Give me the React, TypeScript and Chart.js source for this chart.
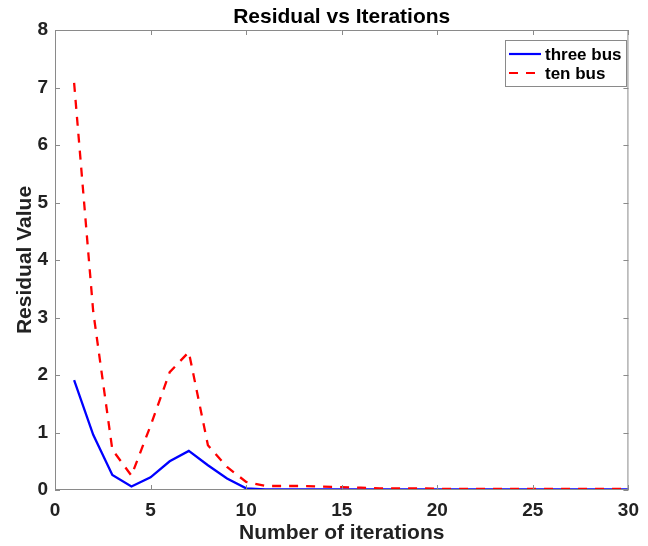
import React, { useEffect, useRef } from "react";
import { Chart, registerables } from "chart.js";

Chart.register(...registerables);

const iterations = Array.from({ length: 30 }, (_, i) => i + 1);
const threeBus = [
  1.91, 0.96, 0.26, 0.06, 0.22, 0.5, 0.68, 0.43, 0.2, 0.03,
  0.01, 0.01, 0.01, 0.01, 0.01, 0.01, 0.01, 0.01, 0.01, 0.01,
  0.01, 0.01, 0.01, 0.01, 0.01, 0.01, 0.01, 0.01, 0.01, 0.01,
];
const tenBus = [
  7.08, 3.1, 0.7, 0.25, 1.12, 2.05, 2.4, 0.78, 0.4, 0.14,
  0.07, 0.07, 0.07, 0.06, 0.05, 0.04, 0.03, 0.03, 0.03, 0.02,
  0.02, 0.02, 0.02, 0.02, 0.02, 0.02, 0.02, 0.02, 0.02, 0.02,
];
const xTicks = [0, 5, 10, 15, 20, 25, 30];
const yTicks = [0, 1, 2, 3, 4, 5, 6, 7, 8];
const seriesLabels = ["three bus", "ten bus"];

const FONT = '"Liberation Sans", Arial, Helvetica, sans-serif';
const AXIS_COLOR = "#8a8a8a";
const TEXT_COLOR = "#222222";

const framePlugin = {
  id: "matlabFrame",
  afterDraw(chart: any) {
    const { ctx, chartArea } = chart;
    const { left, right, top, bottom } = chartArea;
    const xs = chart.scales.x;
    const ys = chart.scales.y;
    ctx.save();
    ctx.strokeStyle = AXIS_COLOR;
    ctx.lineWidth = 1;
    ctx.beginPath();
    ctx.rect(left + 0.5, top + 0.5, right - left - 1, bottom - top - 1);
    ctx.stroke();
    const tl = 5;
    ctx.beginPath();
    xTicks.forEach((v) => {
      const px = Math.round(xs.getPixelForValue(v)) + 0.5;
      ctx.moveTo(px, bottom);
      ctx.lineTo(px, bottom - tl);
      ctx.moveTo(px, top);
      ctx.lineTo(px, top + tl);
    });
    yTicks.forEach((v) => {
      const py = Math.round(ys.getPixelForValue(v)) + 0.5;
      ctx.moveTo(left, py);
      ctx.lineTo(left + tl, py);
      ctx.moveTo(right, py);
      ctx.lineTo(right - tl, py);
    });
    ctx.stroke();

    // title
    ctx.fillStyle = "#000";
    ctx.font = `bold 21px ${FONT}`;
    ctx.textAlign = "center";
    ctx.textBaseline = "alphabetic";
    ctx.fillText("Residual vs Iterations", (left + right) / 2, 23);

    // legend
    const bx = 505, by = 40, bw = 121, bh = 46;
    ctx.fillStyle = "#fff";
    ctx.fillRect(bx, by, bw, bh);
    ctx.strokeStyle = AXIS_COLOR;
    ctx.strokeRect(bx + 0.5, by + 0.5, bw, bh);
    chart.data.datasets.forEach((ds: any, i: number) => {
      const y = by + 14 + i * 19;
      ctx.strokeStyle = ds.borderColor;
      ctx.lineWidth = 2.2;
      ctx.setLineDash(ds.borderDash || []);
      ctx.beginPath();
      ctx.moveTo(bx + 4, y);
      ctx.lineTo(bx + 36, y);
      ctx.stroke();
      ctx.setLineDash([]);
      ctx.fillStyle = "#000";
      ctx.font = `bold 17px ${FONT}`;
      ctx.textAlign = "left";
      ctx.textBaseline = "middle";
      ctx.fillText(ds.label, bx + 40, y + 1);
    });
    ctx.restore();
  },
};

export default function App() {
  const ref = useRef<HTMLCanvasElement>(null);
  useEffect(() => {
    document.body.style.margin = "0";
    const chart = new Chart(ref.current!, {
      type: "line",
      data: {
        datasets: [
          {
            label: seriesLabels[0],
            data: iterations.map((x, i) => ({ x, y: threeBus[i] })),
            borderColor: "#0000ff",
            borderWidth: 2.3,
            pointRadius: 0,
            tension: 0,
            order: 1,
          },
          {
            label: seriesLabels[1],
            data: iterations.map((x, i) => ({ x, y: tenBus[i] })),
            borderColor: "#ff0000",
            borderWidth: 2.3,
            borderDash: [9, 8],
            pointRadius: 0,
            tension: 0,
            order: 0,
          },
        ],
      },
      options: {
        animation: false,
        responsive: false,
        layout: { padding: { top: 30, right: 11, left: 0, bottom: 0 } },
        plugins: { legend: { display: false }, tooltip: { enabled: false } },
        scales: {
          x: {
            type: "linear",
            min: 0,
            max: 30,
            afterBuildTicks: (s: any) => {
              s.ticks = xTicks.map((v) => ({ value: v }));
            },
            afterFit: (s: any) => {
              s.height = 56;
            },
            grid: { display: false, drawTicks: false },
            border: { display: false },
            ticks: {
              color: TEXT_COLOR,
              font: { family: FONT, size: 19, weight: "bold" },
              padding: 9,
              maxRotation: 0,
              autoSkip: false,
            },
            title: {
              display: true,
              text: "Number of iterations",
              color: TEXT_COLOR,
              font: { family: FONT, size: 21, weight: "bold" },
              padding: { top: 0, bottom: 0 },
            },
          },
          y: {
            type: "linear",
            min: 0,
            max: 8,
            afterBuildTicks: (s: any) => {
              s.ticks = yTicks.map((v) => ({ value: v }));
            },
            afterFit: (s: any) => {
              s.width = 55;
            },
            grid: { display: false, drawTicks: false },
            border: { display: false },
            ticks: {
              color: TEXT_COLOR,
              font: { family: FONT, size: 19, weight: "bold" },
              padding: 7,
              autoSkip: false,
            },
            title: {
              display: true,
              text: "Residual Value",
              color: TEXT_COLOR,
              font: { family: FONT, size: 21, weight: "bold" },
              padding: { top: 13, bottom: 0 },
            },
          },
        },
      },
      plugins: [framePlugin],
    });
    return () => chart.destroy();
  }, []);
  return <canvas ref={ref} width={648} height={546} style={{ display: "block" }} />;
}
